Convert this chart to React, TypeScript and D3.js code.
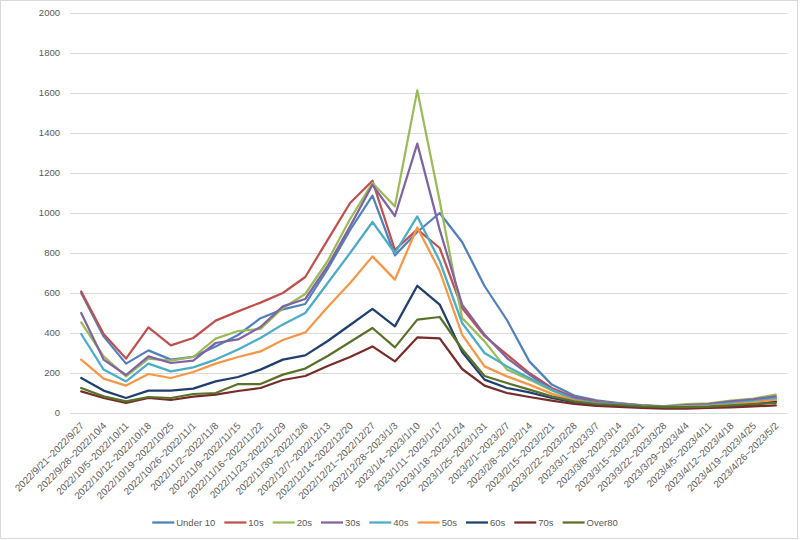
import React, { useEffect, useRef } from "react";
import * as d3 from "d3";

const categories = [
  "2022/9/21~2022/9/27", "2022/9/28~2022/10/4", "2022/10/5~2022/10/11", "2022/10/12~2022/10/18",
  "2022/10/19~2022/10/25", "2022/10/26~2022/11/1", "2022/11/2~2022/11/8", "2022/11/9~2022/11/15",
  "2022/11/16~2022/11/22", "2022/11/23~2022/11/29", "2022/11/30~2022/12/6", "2022/12/7~2022/12/13",
  "2022/12/14~2022/12/20", "2022/12/21~2022/12/27", "2022/12/28~2023/1/3", "2023/1/4~2023/1/10",
  "2023/1/11~2023/1/17", "2023/1/18~2023/1/24", "2023/1/25~2023/1/31", "2023/2/1~2023/2/7",
  "2023/2/8~2023/2/14", "2023/2/15~2023/2/21", "2023/2/22~2023/2/28", "2023/3/1~2023/3/7",
  "2023/3/8~2023/3/14", "2023/3/15~2023/3/21", "2023/3/22~2023/3/28", "2023/3/29~2023/4/4",
  "2023/4/5~2023/4/11", "2023/4/12~2023/4/18", "2023/4/19~2023/4/25", "2023/4/26~2023/5/2",
];

const under10 = [600, 383, 247, 313, 267, 281, 333, 390, 474, 518, 545, 720, 915, 1087, 788, 905, 1000, 855, 635, 465, 258, 142, 87, 63, 50, 38, 32, 36, 40, 50, 62, 75];
const s10 = [608, 395, 272, 428, 338, 375, 462, 508, 552, 600, 680, 866, 1050, 1161, 815, 918, 825, 525, 385, 292, 200, 125, 78, 58, 47, 35, 30, 32, 38, 45, 52, 60];
const s20 = [453, 283, 183, 272, 262, 280, 372, 410, 420, 525, 595, 760, 970, 1150, 1033, 1613, 1060, 475, 358, 217, 167, 113, 70, 55, 48, 40, 35, 45, 48, 62, 72, 92];
const s30 = [500, 267, 190, 283, 250, 262, 350, 368, 430, 533, 570, 735, 933, 1141, 985, 1347, 917, 542, 392, 275, 192, 117, 75, 55, 47, 38, 32, 40, 45, 58, 68, 83];
const s40 = [395, 217, 158, 247, 208, 228, 267, 318, 375, 443, 500, 650, 800, 955, 800, 983, 760, 450, 300, 233, 175, 117, 67, 50, 42, 35, 30, 35, 38, 48, 58, 72];
const s50 = [267, 172, 137, 195, 175, 205, 247, 280, 308, 365, 403, 530, 650, 783, 667, 928, 710, 392, 233, 183, 142, 97, 62, 45, 38, 32, 28, 32, 35, 42, 52, 65];
const s60 = [175, 112, 75, 112, 112, 122, 158, 180, 217, 267, 288, 360, 440, 521, 433, 636, 542, 305, 167, 125, 103, 75, 53, 40, 35, 30, 25, 28, 30, 35, 42, 55];
const s70 = [108, 75, 50, 75, 65, 82, 92, 110, 125, 165, 185, 235, 280, 333, 258, 378, 373, 220, 137, 100, 80, 62, 45, 35, 30, 25, 22, 22, 25, 28, 33, 38];
const over80 = [125, 83, 58, 80, 75, 95, 100, 145, 145, 192, 222, 285, 355, 425, 328, 467, 480, 320, 185, 150, 117, 83, 58, 45, 40, 33, 30, 30, 32, 38, 45, 50];

const seriesNames = ["Under 10", "10s", "20s", "30s", "40s", "50s", "60s", "70s", "Over80"];
const seriesValues = [under10, s10, s20, s30, s40, s50, s60, s70, over80];
const seriesColors = ["#4F81BD", "#C0504D", "#9BBB59", "#8064A2", "#4BACC6", "#F79646", "#1F3F6E", "#772C2A", "#5A7129"];
const yTicks = [0, 200, 400, 600, 800, 1000, 1200, 1400, 1600, 1800, 2000];

const W = 800;
const H = 540;
const FONT = "'Liberation Sans', Arial, sans-serif";
const TEXT = "#595959";

export default function App() {
  const ref = useRef<SVGSVGElement | null>(null);

  useEffect(() => {
    const svg = d3.select(ref.current);
    svg.selectAll("*").remove();

    const left = 70, right = 787, top = 13, bottom = 413;
    const x = d3.scaleBand<string>().domain(categories).range([left, right]).padding(0);
    const y = d3.scaleLinear().domain([0, 2000]).range([bottom, top]);
    const cx = (c: string) => (x(c) as number) + x.bandwidth() / 2;

    svg.append("rect").attr("x", 0).attr("y", 0).attr("width", W).attr("height", H).attr("fill", "#fff");
    svg.append("rect").attr("x", 0.5).attr("y", 0.5).attr("width", 797).attr("height", 538)
      .attr("fill", "none").attr("stroke", "#D9D9D9").attr("stroke-width", 1);

    // gridlines
    svg.append("g").selectAll("line").data(yTicks).join("line")
      .attr("x1", left).attr("x2", right)
      .attr("y1", (d) => Math.round(y(d)) + 0.5).attr("y2", (d) => Math.round(y(d)) + 0.5)
      .attr("stroke", "#D9D9D9").attr("stroke-width", 1);

    // y labels
    svg.append("g").selectAll("text").data(yTicks).join("text")
      .attr("x", 60).attr("y", (d) => y(d)).attr("dy", "0.35em")
      .attr("text-anchor", "end").attr("font-family", FONT).attr("font-size", 9.5)
      .attr("fill", TEXT).text((d) => String(d));

    // x labels
    svg.append("g").selectAll("text").data(categories).join("text")
      .attr("transform", (d) => `translate(${cx(d) + 1},${bottom + 11}) rotate(-45)`)
      .attr("dy", "0.35em")
      .attr("text-anchor", "end").attr("font-family", FONT).attr("font-size", 9.8)
      .attr("fill", TEXT).text((d) => d);

    // lines
    const line = d3.line<number>()
      .x((_, i) => cx(categories[i]))
      .y((v) => y(v));
    svg.append("g").selectAll("path").data(seriesValues).join("path")
      .attr("d", (d) => line(d) as string)
      .attr("fill", "none")
      .attr("stroke", (_, i) => seriesColors[i])
      .attr("stroke-width", 2.25)
      .attr("stroke-linejoin", "round")
      .attr("stroke-linecap", "round");

    // legend
    const legend = svg.append("g");
    const ly = 522.5;
    const items = seriesNames.map((name, i) => {
      const g = legend.append("g");
      g.append("line").attr("x1", 0).attr("x2", 22).attr("y1", ly).attr("y2", ly)
        .attr("stroke", seriesColors[i]).attr("stroke-width", 2.25);
      const t = g.append("text").attr("x", 24).attr("y", ly).attr("dy", "0.35em")
        .attr("font-family", FONT).attr("font-size", 9.5).attr("fill", TEXT).text(name);
      const w = (t.node() as SVGTextElement).getComputedTextLength();
      return { g, w: 24 + w + 9 };
    });
    const total = items.reduce((s, it) => s + it.w, 0) - 9;
    let pos = 385 - total / 2;
    items.forEach((it) => {
      it.g.attr("transform", `translate(${pos},0)`);
      pos += it.w;
    });
  }, []);

  return (
    <svg
      ref={ref}
      width={W}
      height={H}
      style={{ position: "absolute", left: 0, top: 0, display: "block" }}
    />
  );
}
